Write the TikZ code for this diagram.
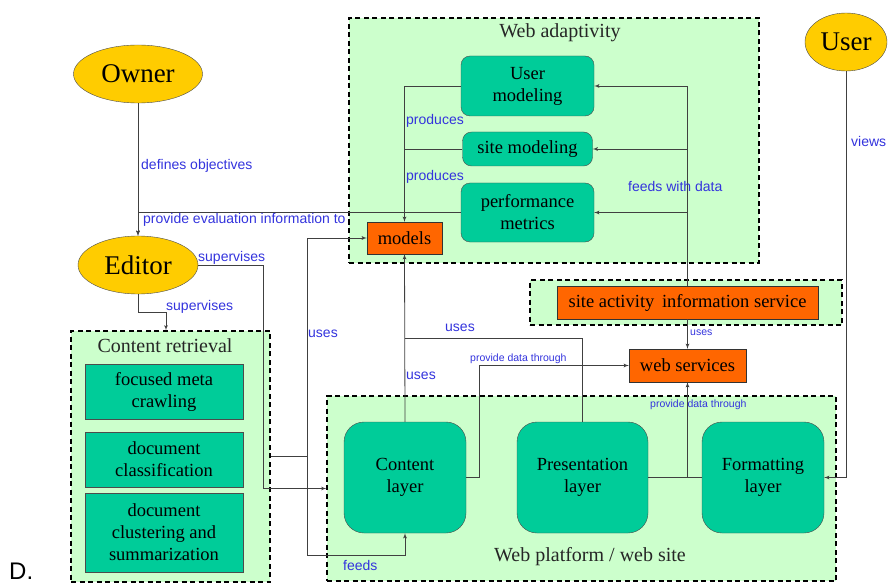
\documentclass[tikz,border=0pt]{standalone}
\usepackage{fontspec}
\setmainfont{Liberation Serif}
\setsansfont{Liberation Sans}
\usepackage{tikz}
\usetikzlibrary{positioning,arrows,shapes.geometric}
\definecolor{actorgold}{RGB}{255,204,0}
\definecolor{moduleteal}{RGB}{0,204,153}
\definecolor{serviceorange}{RGB}{255,102,0}
\definecolor{areagreen}{RGB}{204,255,204}
\definecolor{labelblue}{RGB}{51,51,221}

\begin{document}
\begin{tikzpicture}[x=1pt,y=-1pt]
    \tikzstyle{actor}=[ellipse, draw=black!70, fill=actorgold, inner sep=0pt, font=\fontsize{27}{30}\selectfont]
    \tikzstyle{area}=[draw, line width=1.1pt, dash pattern=on 5pt off 3.5pt, fill=areagreen, inner sep=0pt]
    \tikzstyle{title}=[font=\fontsize{20}{24}\selectfont, text=black!85]
    \tikzstyle{module}=[draw=black!70, fill=moduleteal, rounded corners=9pt, align=center, inner sep=0pt, font=\fontsize{18.5}{22}\selectfont, on grid]
    \tikzstyle{layer}=[module, rounded corners=20pt, minimum height=111pt]
    \tikzstyle{task}=[module, sharp corners, minimum width=158pt]
    \tikzstyle{service}=[draw=black!80, fill=serviceorange, inner sep=0pt, font=\fontsize{18.5}{22}\selectfont, on grid]
    \tikzstyle{lbl}=[text=labelblue, inner sep=1pt, font=\sffamily\fontsize{14}{16}\selectfont]
    \tikzstyle{small}=[lbl, font=\sffamily\fontsize{10.5}{12}\selectfont]
    \tikzstyle{link}=[draw=black!75, line width=0.8pt]
    \useasboundingbox (0,0) rectangle (888,588);

    \node[area, minimum width=410pt, minimum height=245pt] (adaptivity) at (554,140.5) {};
    \node[area, minimum width=312pt, minimum height=45pt] (activity) at (686,302.5) {};
    \node[area, minimum width=199pt, minimum height=251pt] (retrieval) at (170.5,456.5) {};
    \node[area, minimum width=509pt, minimum height=185pt] (platform) at (581.5,488.5) {};
    \node[title] (adtitle) at (560,33) {Web adaptivity};
    \node[title] (rettitle) at (165,346) {Content retrieval};
    \node[title] (plattitle) at (590,557) {Web platform / web site};

    \node[actor, minimum width=129pt, minimum height=58pt] (owner) at (138,74) {Owner};
    \node[actor, minimum width=120pt, minimum height=58pt] (editor) at (138,265) {Editor};
    \node[actor, minimum width=82pt, minimum height=58pt] (user) at (846,42) {User};

    \node[module, minimum width=133pt, minimum height=60pt] (usermod) at (527.5,86) {User\\modeling};
    \node[module, minimum width=130pt, minimum height=34pt, below=63pt of usermod] (sitemod) {site modeling};
    \node[module, minimum width=133pt, minimum height=59pt, below=63.5pt of sitemod] (perf) {performance\\metrics};
    \node[service, minimum width=75pt, minimum height=32pt] (models) at (404.5,238) {models};

    \node[service, minimum width=117pt, minimum height=33pt] (websrv) at (687.5,365.5) {web services};
    \node[service, minimum width=261pt, minimum height=33pt, above=63pt of websrv] (actserv) {site activity\, information service};

    \node[task, minimum height=55pt] (crawl) at (164,391.5) {focused meta\\crawling};
    \node[task, minimum height=55pt, below=68pt of crawl] (classif) {document\\classification};
    \node[task, minimum height=79pt, below=73pt of classif] (cluster) {document\\clustering and\\summarization};

    \node[layer, minimum width=122pt] (clayer) at (405,477.5) {Content\\layer};
    \node[layer, minimum width=131pt, right=177.5pt of clayer] (player) {Presentation\\layer};
    \node[layer, minimum width=122pt, right=180.5pt of player] (flayer) {Formatting\\layer};

    \coordinate (usejoin) at (405,338);
    \coordinate (feedjoin) at (405,555);

    \draw[link,-latex'] (owner.south) -- (editor.north);
    \draw[link,-latex'] (perf.west) -| (editor.north);
    \draw[link,-latex'] (usermod.west) -| (models.north);
    \draw[link] (sitemod.west) -- (sitemod.west -| models.north);
    \draw[link,-latex'] (actserv.north) |- (usermod.east);
    \draw[link,-latex'] (actserv.north) |- (sitemod.east);
    \draw[link,-latex'] (actserv.north) |- (perf.east);
    \draw[link,-latex'] (actserv.south) -- (websrv.north);
    \draw[link,-latex'] (editor.east) -- ++(65,0) |- (platform.west);
    \draw[link,-latex'] (editor.south) -- ++(0,18) -| ([xshift=-4.5pt]retrieval.north);
    \draw[link,-latex'] (retrieval.east) -- ++(36.5,0) |- (models.west);
    \draw[link,-latex'] (retrieval.east) -- ++(36.5,0) |- (feedjoin) -- (clayer.south);
    \draw[link,-latex'] (clayer.north) -- (models.south);
    \draw[link] (player.north) |- (usejoin);
    \draw[link,-latex'] (clayer.east) -- ++(13,0) |- (websrv.west);
    \draw[link] (player.east) -- (flayer.west);
    \draw[link,-latex'] (websrv.south |- player.east) -- (websrv.south);
    \draw[link,-latex'] (user.south) |- (flayer.east);

    \node[lbl, anchor=west] (ldefines) at (140,166) {defines objectives};
    \node[lbl, anchor=west] (lprovide) at (142,220) {provide evaluation information to};
    \node[lbl, anchor=west] (lsuper1) at (197,258) {supervises};
    \node[lbl, anchor=west] (lsuper2) at (165,307) {supervises};
    \node[lbl, anchor=west] (lprod1) at (405,121) {produces};
    \node[lbl, anchor=west] (lprod2) at (405,177) {produces};
    \node[lbl, anchor=west] (lfeeds) at (627,186) {feeds with data};
    \node[lbl, anchor=west] (lviews) at (850,141) {views};
    \node[lbl, anchor=west] (luses1) at (307,334) {uses};
    \node[lbl, anchor=west] (luses2) at (444,328) {uses};
    \node[lbl, anchor=west] (luses3) at (405,376) {uses};
    \node[lbl, anchor=west] (lfeed) at (342,565) {feeds};
    \node[small, anchor=west] (luses4) at (689,333) {uses};
    \node[small, anchor=west] (lthrough1) at (469,359) {provide data through};
    \node[small, anchor=west] (lthrough2) at (649,405) {provide data through};
    \node[font=\sffamily\fontsize{24}{28}\selectfont, inner sep=0pt, anchor=base west] (dmark) at (9,579) {D.};
\end{tikzpicture}
\end{document}
